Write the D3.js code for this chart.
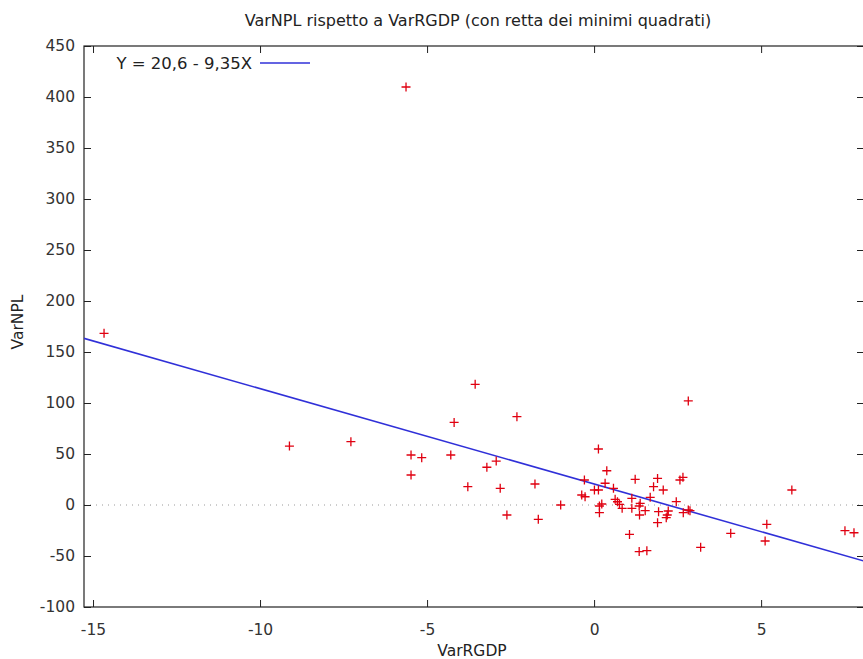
<!DOCTYPE html>
<html><head><meta charset="utf-8">
<script src="https://cdn.jsdelivr.net/npm/d3@7"></script>
<style>
body{margin:0;background:#fff;}
svg{display:block;}
text{font-family:"DejaVu Sans",Verdana,sans-serif;}
</style></head>
<body><svg id="c" width="863" height="659"></svg>
<script>
const title = "VarNPL rispetto a VarRGDP (con retta dei minimi quadrati)";
const xLabel = "VarRGDP";
const yLabel = "VarNPL";
const legendLabel = "Y = 20,6 - 9,35X";
const fitIntercept = 20.6;
const fitSlope = -9.35;
const xTicks = [-15, -10, -5, 0, 5];
const yTicks = [-100, -50, 0, 50, 100, 150, 200, 250, 300, 350, 400, 450];
const varRGDP = [-14.67, -9.12, -7.28, -5.63, -5.48, -5.48, -5.16, -4.29, -4.19, -3.56,
  -3.78, -3.21, -2.93, -2.81, -2.61, -2.31, -1.77, -1.67, -1.0, -0.37,
  -0.27, -0.29, 0.01, 0.13, 0.13, 0.23, 0.16, 0.16, 0.33, 0.38,
  0.58, 0.63, 0.70, 0.76, 0.84, 1.06, 1.13, 1.13, 1.23, 1.35,
  1.38, 1.36, 1.35, 1.53, 1.58, 1.68, 1.78, 1.90, 1.93, 1.90,
  2.07, 2.16, 2.19, 2.22, 2.46, 2.57, 2.66, 2.67, 2.82, 2.87,
  2.82, 3.19, 4.09, 5.12, 5.17, 5.92, 7.51, 7.78];
const varNPL = [168.3, 57.8, 62.1, 409.8, 49, 29.4, 46.4, 49, 81, 118.3,
  18, 37, 43.1, 16.3, -9.8, 86.6, 20.6, -14, 0, 9.8,
  8.1, 24.5, 14.7, 14.7, 54.9, 1, -1, -7.5, 21.3, 33.6,
  16.3, 5.6, 3.2, 0.7, -3.3, -28.8, 6.5, -3.3, 25.2, -1,
  1.6, -9.8, -45.7, -5.6, -44.8, 7.5, 18, 26.1, -6.5, -17.3,
  14.7, -12.4, -9.8, -5.9, 3.3, 24.5, 27.1, -7.5, -4.9, -5.6,
  102, -41.5, -27.8, -35.3, -18.9, 14.7, -25.2, -27.2];

const svg = d3.select("#c");
const L = 84, R = 864, T = 46, B = 607;
const x = d3.scaleLinear().domain([-15.27, 8.08]).range([L, R]);
const y = d3.scaleLinear().domain([-100, 450]).range([B, T]);
const FS = 15.5;
const fmt = d => String(d);

// zero line
svg.append("line").attr("x1", L).attr("x2", R).attr("y1", y(0)).attr("y2", y(0))
  .attr("stroke", "#9a9a9a").attr("stroke-width", 1).attr("stroke-dasharray", "1,5");

// axes
function styleAxis(g){
  g.select(".domain").remove();
  g.selectAll(".tick line").attr("stroke", "#222").attr("stroke-width", 1);
  g.selectAll(".tick text").attr("fill", "#333").style("font-size", FS + "px")
    .style("font-family", '"DejaVu Sans",Verdana,sans-serif');
}
const gx = svg.append("g").attr("transform", `translate(0,${B})`)
  .call(d3.axisBottom(x).tickValues(xTicks).tickSizeInner(-7).tickSizeOuter(0).tickPadding(17).tickFormat(fmt));
styleAxis(gx);
const gy = svg.append("g").attr("transform", `translate(${L},0)`)
  .call(d3.axisLeft(y).tickValues(yTicks).tickSizeInner(-7).tickSizeOuter(0).tickPadding(9).tickFormat(fmt));
styleAxis(gy);
const gxt = svg.append("g").attr("transform", `translate(0,${T})`)
  .call(d3.axisTop(x).tickValues(xTicks).tickSizeInner(-7).tickSizeOuter(0).tickFormat(""));
styleAxis(gxt);
const gyr = svg.append("g").attr("transform", `translate(${R},0)`)
  .call(d3.axisRight(y).tickValues(yTicks).tickSizeInner(-7).tickSizeOuter(0).tickFormat(""));
styleAxis(gyr);

// frame
svg.append("rect").attr("x", L).attr("y", T).attr("width", R - L).attr("height", B - T)
  .attr("fill", "none").attr("stroke", "#222").attr("stroke-width", 1.2);

// fit line
svg.append("clipPath").attr("id", "pc").append("rect")
  .attr("x", L).attr("y", T).attr("width", R - L).attr("height", B - T);
const xd = x.domain();
svg.append("line").attr("clip-path", "url(#pc)")
  .attr("x1", x(xd[0])).attr("y1", y(fitIntercept + fitSlope * xd[0]))
  .attr("x2", x(xd[1])).attr("y2", y(fitIntercept + fitSlope * xd[1]))
  .attr("stroke", "#3030d8").attr("stroke-width", 1.6);

// points
const pts = varRGDP.map((v, i) => [v, varNPL[i]]);
const s = 4.5;
svg.append("g").selectAll("path").data(pts).join("path")
  .attr("d", d => `M${x(d[0]) - s},${y(d[1])}H${x(d[0]) + s}M${x(d[0])},${y(d[1]) - s}V${y(d[1]) + s}`)
  .attr("stroke", "#e00010").attr("stroke-width", 1.3).attr("fill", "none");

// legend
svg.append("text").attr("x", 252).attr("y", 63).attr("dy", "0.35em").attr("text-anchor", "end")
  .attr("fill", "#222").style("font-size", "16.5px").text(legendLabel);
svg.append("line").attr("x1", 260).attr("x2", 310).attr("y1", 63).attr("y2", 63)
  .attr("stroke", "#3030d8").attr("stroke-width", 1.6);

// titles
svg.append("text").attr("x", 478).attr("y", 20).attr("dy", "0.35em").attr("text-anchor", "middle")
  .attr("fill", "#222").style("font-size", "16px").text(title);
svg.append("text").attr("x", 472).attr("y", 651).attr("dy", "0.35em").attr("text-anchor", "middle")
  .attr("fill", "#222").style("font-size", FS + "px").text(xLabel);
svg.append("text").attr("transform", `translate(18,322) rotate(-90)`).attr("dy", "0.35em")
  .attr("text-anchor", "middle").attr("fill", "#222").style("font-size", FS + "px").text(yLabel);
</script></body></html>
